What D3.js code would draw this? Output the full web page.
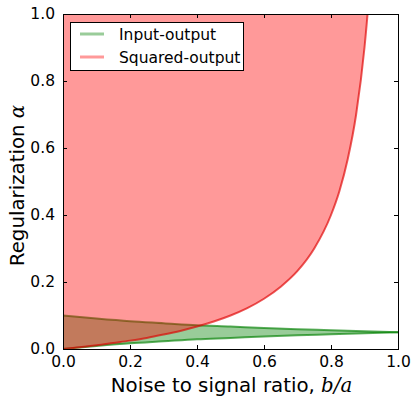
<!DOCTYPE html>
<html>
<head>
<meta charset="utf-8">
<script src="https://cdn.jsdelivr.net/npm/d3@7"></script>
<style>
  body { margin: 0; background: #fff; }
  text { font-family: "DejaVu Sans", sans-serif; fill: #000; }
</style>
</head>
<body>
<script>
// values
const greenX = [0, 0.1, 0.2, 0.3, 0.4, 0.5, 0.6, 0.7, 0.8, 0.9, 1.0]
const greenUpper = [0.1, 0.091, 0.083, 0.077, 0.071, 0.067, 0.0625, 0.059, 0.056, 0.053, 0.05]
const greenLower = [0, 0.009, 0.017, 0.023, 0.029, 0.033, 0.0375, 0.041, 0.044, 0.047, 0.05]

const redX = [0, 0.05, 0.1, 0.15, 0.2, 0.25, 0.3, 0.35, 0.4, 0.45, 0.5, 0.55, 0.6, 0.65, 0.7, 0.75, 0.8, 0.825, 0.85, 0.875, 0.9, 0.91, 0.92]
const redCurve = [0, 0.005, 0.011, 0.018, 0.025, 0.033, 0.043, 0.054, 0.067, 0.082, 0.1, 0.122, 0.15, 0.186, 0.233, 0.3, 0.4, 0.471, 0.567, 0.7, 0.9, 1.011, 1.15]

const ticks = [0, 0.2, 0.4, 0.6, 0.8, 1.0]
const seriesNames = ['Input-output', 'Squared-output']

const width = 416
const height = 405
const mLeft = 63, mRight = 398, mTop = 14, mBottom = 349

const x = d3.scaleLinear().domain([0, 1]).range([mLeft, mRight])
const y = d3.scaleLinear().domain([0, 1]).range([mBottom, mTop])

const svg = d3.select('body').append('svg')
  .attr('width', width)
  .attr('height', height)

svg.append('clipPath').attr('id', 'clip')
  .append('rect')
  .attr('x', mLeft).attr('y', mTop)
  .attr('width', mRight - mLeft).attr('height', mBottom - mTop)

const plot = svg.append('g').attr('clip-path', 'url(#clip)')

const green = greenX.map((v, i) => ({x: v, lo: greenLower[i], hi: greenUpper[i]}))
const red = redX.map((v, i) => ({x: v, y: redCurve[i]}))

// input-output band
plot.append('path')
  .datum(green)
  .attr('d', d3.area().curve(d3.curveMonotoneX)
    .x(d => x(d.x)).y0(d => y(d.lo)).y1(d => y(d.hi)))
  .attr('fill', 'green')
  .attr('fill-opacity', 0.4)

;['lo', 'hi'].forEach(k => {
  plot.append('path')
    .datum(green)
    .attr('d', d3.line().curve(d3.curveMonotoneX).x(d => x(d.x)).y(d => y(d[k])))
    .attr('fill', 'none')
    .attr('stroke', 'green')
    .attr('stroke-opacity', 0.65)
    .attr('stroke-width', 2)
})

// squared-output region
plot.append('path')
  .datum(red)
  .attr('d', d3.area().curve(d3.curveMonotoneX)
    .x(d => x(d.x)).y0(d => y(1.2)).y1(d => y(d.y)))
  .attr('fill', 'red')
  .attr('fill-opacity', 0.4)

plot.append('path')
  .datum(red)
  .attr('d', d3.line().curve(d3.curveMonotoneX).x(d => x(d.x)).y(d => y(d.y)))
  .attr('fill', 'none')
  .attr('stroke', '#d00')
  .attr('stroke-opacity', 0.65)
  .attr('stroke-width', 2)

// axes, ticks pointing inward on all sides
const fmt = d3.format('.1f')
svg.append('g').attr('transform', 'translate(0,' + mBottom + ')')
  .call(d3.axisBottom(x).tickValues(ticks).tickFormat(fmt).tickSizeInner(-4).tickSizeOuter(0).tickPadding(7))
svg.append('g').attr('transform', 'translate(0,' + mTop + ')')
  .call(d3.axisTop(x).tickValues(ticks).tickFormat('').tickSizeInner(-4).tickSizeOuter(0))
svg.append('g').attr('transform', 'translate(' + mLeft + ',0)')
  .call(d3.axisLeft(y).tickValues(ticks).tickFormat(fmt).tickSizeInner(-4).tickSizeOuter(0).tickPadding(8))
svg.append('g').attr('transform', 'translate(' + mRight + ',0)')
  .call(d3.axisRight(y).tickValues(ticks).tickFormat('').tickSizeInner(-4).tickSizeOuter(0))

svg.selectAll('.domain').remove()
svg.selectAll('.tick text')
  .attr('font-family', '"DejaVu Sans", sans-serif')
  .attr('font-size', 15.5)
  .attr('fill', '#000')
svg.selectAll('.tick line').attr('stroke', '#000')

svg.append('rect')
  .attr('x', mLeft + 0.5).attr('y', mTop + 0.5)
  .attr('width', mRight - mLeft).attr('height', mBottom - mTop)
  .attr('fill', 'none').attr('stroke', '#000').attr('stroke-width', 1)

// axis labels
const xl = svg.append('text')
  .attr('x', (mLeft + mRight) / 2 + 1).attr('y', 392)
  .attr('text-anchor', 'middle')
  .attr('font-size', 19.8)
xl.append('tspan').text('Noise to signal ratio, ')
xl.append('tspan').attr('font-family', '"DejaVu Serif", serif').attr('font-style', 'italic').text('b/a')

const yl = svg.append('text')
  .attr('transform', 'translate(24,' + ((mTop + mBottom) / 2 + 4) + ') rotate(-90)')
  .attr('text-anchor', 'middle')
  .attr('font-size', 19.8)
yl.append('tspan').text('Regularization ')
yl.append('tspan').attr('font-family', '"DejaVu Serif", serif').attr('font-style', 'italic').text('α')

// legend
const legend = svg.append('g')
legend.append('rect')
  .attr('x', 70.5).attr('y', 22.5).attr('width', 173).attr('height', 48)
  .attr('fill', '#fff').attr('stroke', '#000')
const legendColors = ['green', 'red']
seriesNames.forEach((name, i) => {
  const ly = 34 + i * 23
  legend.append('line')
    .attr('x1', 80).attr('x2', 104).attr('y1', ly).attr('y2', ly)
    .attr('stroke', legendColors[i]).attr('stroke-opacity', 0.4).attr('stroke-width', 3)
  legend.append('text')
    .attr('x', 119).attr('y', ly + 5.5)
    .attr('font-size', 15.5)
    .text(name)
})
</script>
</body>
</html>
